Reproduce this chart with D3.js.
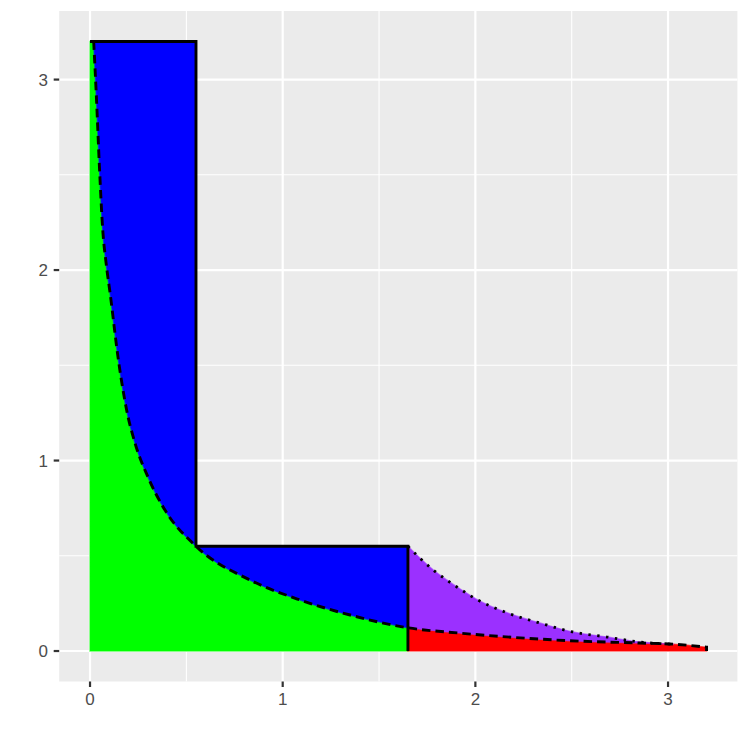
<!DOCTYPE html>
<html>
<head>
<meta charset="utf-8">
<script src="https://cdn.jsdelivr.net/npm/d3@7"></script>
<style>
  html, body { margin: 0; padding: 0; background: #ffffff; }
  svg { display: block; }
  text { font-family: "Liberation Sans", Arial, sans-serif; }
</style>
</head>
<body>
<div id="chart"></div>
<script>
// ---- data ----
// dashed boundary curve (lower curve)
const curveX = [0.019, 0.033, 0.048, 0.066, 0.083, 0.104, 0.147, 0.190, 0.234, 0.301, 0.389, 0.55, 0.83, 1.09, 1.35, 1.65, 1.93, 2.19, 2.49, 2.85, 3.03, 3.2];
const curveY = [3.2, 2.91, 2.56, 2.21, 2.04, 1.88, 1.53, 1.265, 1.09, 0.913, 0.74, 0.55, 0.373, 0.268, 0.189, 0.122, 0.093, 0.072, 0.054, 0.042, 0.036, 0.02];
// dotted upper curve of the purple region
const dotX = [1.65, 1.713, 1.782, 1.851, 1.929, 2.007, 2.085, 2.171, 2.335, 2.506, 2.683, 2.854, 3.03];
const dotY = [0.55, 0.487, 0.425, 0.373, 0.320, 0.271, 0.233, 0.198, 0.147, 0.100, 0.0735, 0.047, 0.036];
// step (L-shaped) boundary
const stepX = [0, 0.55, 0.55, 1.65, 1.65];
const stepY = [3.2, 3.2, 0.55, 0.55, 0];
const splitX = 1.65;   // where green/blue meet red/purple
const xTicks = [0, 1, 2, 3];
const yTicks = [0, 1, 2, 3];
const xMinor = [0.5, 1.5, 2.5];
const yMinor = [0.5, 1.5, 2.5];
const domainX = [0, 3.2];
const domainY = [0, 3.2];
const colors = { green: "#00FF00", blue: "#0000FF", red: "#FF0000", purple: "#9B30FF" };

// ---- layout ----
const W = 747, H = 747;
const panel = { left: 59.2, right: 737.4, top: 11, bottom: 681.5 };
const exp = 0.05 * (domainX[1] - domainX[0]);
const expY = 0.05 * (domainY[1] - domainY[0]);

const x = d3.scaleLinear().domain([domainX[0] - exp, domainX[1] + exp]).range([panel.left, panel.right]);
const y = d3.scaleLinear().domain([domainY[0] - expY, domainY[1] + expY]).range([panel.bottom, panel.top]);

const svg = d3.select("#chart").append("svg").attr("width", W).attr("height", H);

// panel background
svg.append("rect")
  .attr("x", panel.left).attr("y", panel.top)
  .attr("width", panel.right - panel.left).attr("height", panel.bottom - panel.top)
  .attr("fill", "#EBEBEB");

const grid = svg.append("g");
grid.selectAll(".vmin").data(xMinor).join("line")
  .attr("x1", d => x(d)).attr("x2", d => x(d)).attr("y1", panel.top).attr("y2", panel.bottom)
  .attr("stroke", "#fff").attr("stroke-width", 1.1);
grid.selectAll(".hmin").data(yMinor).join("line")
  .attr("y1", d => y(d)).attr("y2", d => y(d)).attr("x1", panel.left).attr("x2", panel.right)
  .attr("stroke", "#fff").attr("stroke-width", 1.1);
grid.selectAll(".vmaj").data(xTicks).join("line")
  .attr("x1", d => x(d)).attr("x2", d => x(d)).attr("y1", panel.top).attr("y2", panel.bottom)
  .attr("stroke", "#fff").attr("stroke-width", 2.2);
grid.selectAll(".hmaj").data(yTicks).join("line")
  .attr("y1", d => y(d)).attr("y2", d => y(d)).attr("x1", panel.left).attr("x2", panel.right)
  .attr("stroke", "#fff").attr("stroke-width", 2.2);

// ---- build point lists ----
const curve = curveX.map((v, i) => [v, curveY[i]]);
const dotted = dotX.map((v, i) => [v, dotY[i]]);
const interp = (xs, ys, xv) => {
  for (let i = 0; i < xs.length - 1; i++) {
    if (xv >= xs[i] && xv <= xs[i + 1]) {
      const t = (xv - xs[i]) / (xs[i + 1] - xs[i]);
      return ys[i] + t * (ys[i + 1] - ys[i]);
    }
  }
  return ys[ys.length - 1];
};
const fSplit = interp(curveX, curveY, splitX);
const leftCurve = curve.filter(p => p[0] < splitX).concat([[splitX, fSplit]]);
const rightCurve = [[splitX, fSplit]].concat(curve.filter(p => p[0] > splitX));
const dotEnd = dotX[dotX.length - 1];
const midCurve = rightCurve.filter(p => p[0] <= dotEnd);

const line = d3.line().x(d => x(d[0])).y(d => y(d[1])).curve(d3.curveMonotoneX);
const lineLin = d3.line().x(d => x(d[0])).y(d => y(d[1]));

const fills = svg.append("g");
// green: under curve left of split
fills.append("path")
  .attr("d", (() => {
    const p = d3.path();
    p.moveTo(x(0), y(0));
    p.lineTo(x(0), y(domainY[1]));
    p.lineTo(x(leftCurve[0][0]), y(leftCurve[0][1]));
    const c = line(leftCurve);
    return p.toString() + "L" + c.slice(1) + "L" + x(splitX) + "," + y(0) + "Z";
  })())
  .attr("fill", colors.green).attr("stroke", colors.green).attr("stroke-opacity", 0.6).attr("stroke-width", 1.5);

// blue: between step outline and curve
fills.append("path")
  .attr("d", (() => {
    const top = lineLin([[0, domainY[1]], [stepX[1], stepY[1]], [stepX[2], stepY[2]], [stepX[3], stepY[3]], [splitX, fSplit]]);
    const c = line(leftCurve.slice().reverse());
    return top + "L" + c.slice(1) + "Z";
  })())
  .attr("fill", colors.blue).attr("stroke", colors.blue).attr("stroke-opacity", 0.6).attr("stroke-width", 1.5);

// red: under curve right of split
fills.append("path")
  .attr("d", line(rightCurve) + "L" + x(domainX[1]) + "," + y(0) + "L" + x(splitX) + "," + y(0) + "Z")
  .attr("fill", colors.red).attr("stroke", colors.red).attr("stroke-opacity", 0.6).attr("stroke-width", 1.5);

// purple: between dotted and dashed curves
fills.append("path")
  .attr("d", (() => {
    const top = line(dotted);
    const c = line(midCurve.slice().reverse());
    return top + "L" + c.slice(1) + "Z";
  })())
  .attr("fill", colors.purple).attr("stroke", colors.purple).attr("stroke-opacity", 0.6).attr("stroke-width", 1.5);

// dotted line
svg.append("path")
  .attr("d", line(dotted))
  .attr("fill", "none").attr("stroke", "#000").attr("stroke-width", 2.8)
  .attr("stroke-dasharray", "2.4,6.5");

// dashed line (curve with final drop to zero)
svg.append("path")
  .attr("d", line(curve) + "L" + x(domainX[1]) + "," + y(0))
  .attr("fill", "none").attr("stroke", "#000").attr("stroke-width", 2.9)
  .attr("stroke-dasharray", "8.5,5");

// step outline
svg.append("path")
  .attr("d", lineLin(stepX.map((v, i) => [v, stepY[i]])))
  .attr("fill", "none").attr("stroke", "#000").attr("stroke-width", 2.9)
  .attr("stroke-linejoin", "miter");

// ---- axes ----
const fs = 17;
const axes = svg.append("g");
axes.selectAll(".xt").data(xTicks).join("line")
  .attr("x1", d => x(d)).attr("x2", d => x(d)).attr("y1", panel.bottom).attr("y2", panel.bottom + 5.5)
  .attr("stroke", "#333333").attr("stroke-width", 2.2);
axes.selectAll(".xl").data(xTicks).join("text")
  .attr("x", d => x(d)).attr("y", 705)
  .attr("text-anchor", "middle").attr("font-size", fs).attr("fill", "#4D4D4D")
  .text(d => d3.format("d")(d));
axes.selectAll(".yt").data(yTicks).join("line")
  .attr("y1", d => y(d)).attr("y2", d => y(d)).attr("x1", panel.left - 5.5).attr("x2", panel.left)
  .attr("stroke", "#333333").attr("stroke-width", 2.2);
axes.selectAll(".yl").data(yTicks).join("text")
  .attr("x", 48).attr("y", d => y(d)).attr("dy", "0.36em")
  .attr("text-anchor", "end").attr("font-size", fs).attr("fill", "#4D4D4D")
  .text(d => d3.format("d")(d));
</script>
</body>
</html>
